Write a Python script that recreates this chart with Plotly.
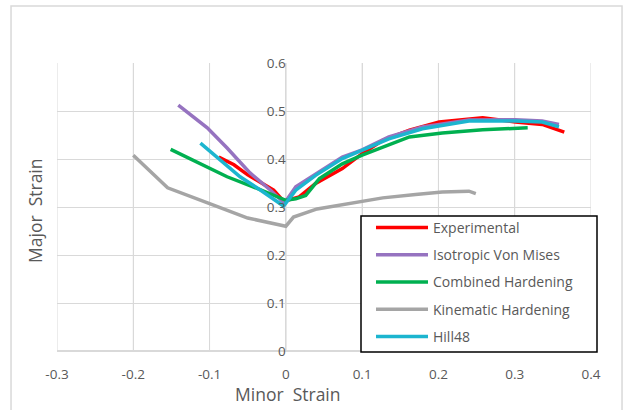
import plotly.graph_objects as go

# ---- data ----
exp_x = [-0.088, -0.068, -0.050, -0.033, -0.016, -0.003, 0.0175, 0.039, 0.074, 0.100, 0.127, 0.162, 0.201, 0.258, 0.301, 0.336, 0.365]
exp_y = [0.404, 0.388, 0.367, 0.350, 0.335, 0.312, 0.321, 0.349, 0.380, 0.411, 0.439, 0.460, 0.477, 0.486, 0.477, 0.472, 0.456]

vm_x = [-0.141, -0.103, -0.077, -0.047, -0.020, -0.002, 0.013, 0.039, 0.074, 0.100, 0.135, 0.179, 0.240, 0.301, 0.336, 0.358]
vm_y = [0.512, 0.465, 0.423, 0.371, 0.335, 0.308, 0.342, 0.369, 0.404, 0.419, 0.446, 0.467, 0.481, 0.482, 0.479, 0.472]

comb_x = [-0.151, -0.112, -0.077, -0.043, -0.007, 0.000, 0.013, 0.026, 0.044, 0.074, 0.100, 0.127, 0.162, 0.205, 0.258, 0.317]
comb_y = [0.420, 0.390, 0.363, 0.342, 0.318, 0.314, 0.317, 0.324, 0.359, 0.390, 0.408, 0.425, 0.446, 0.454, 0.461, 0.465]

kin_x = [-0.200, -0.155, -0.100, -0.050, 0.000, 0.010, 0.041, 0.105, 0.127, 0.170, 0.205, 0.240, 0.249]
kin_y = [0.408, 0.340, 0.307, 0.277, 0.260, 0.279, 0.296, 0.314, 0.319, 0.326, 0.331, 0.333, 0.328]

hill_x = [-0.112, -0.086, -0.060, -0.033, -0.003, 0.013, 0.039, 0.074, 0.100, 0.135, 0.179, 0.240, 0.301, 0.336, 0.358]
hill_y = [0.433, 0.398, 0.363, 0.335, 0.302, 0.335, 0.366, 0.401, 0.418, 0.442, 0.463, 0.479, 0.479, 0.477, 0.467]

series_names = ["Experimental", "Isotropic Von Mises", "Combined Hardening", "Kinematic Hardening", "Hill48"]
series_colors = ["#FF0000", "#9673C0", "#00B050", "#A5A5A5", "#1CB5CF"]

x_ticks = [-0.3, -0.2, -0.1, 0, 0.1, 0.2, 0.3, 0.4]
x_tick_text = ["-0.3", "-0.2", "-0.1", "0", "0.1", "0.2", "0.3", "0.4"]
y_ticks = [0, 0.1, 0.2, 0.3, 0.4, 0.5, 0.6]
y_tick_text = ["0", "0.1", "0.2", "0.3", "0.4", "0.5", "0.6"]

x_title = "Minor  Strain"
y_title = "Major  Strain"

FONT = "Open Sans"
TXT = "#595959"
GRID = "#D9D9D9"

fig = go.Figure()
data = [(exp_x, exp_y), (vm_x, vm_y), (comb_x, comb_y), (kin_x, kin_y), (hill_x, hill_y)]
for i, ((xs, ys), name, col) in enumerate(zip(data, series_names, series_colors)):
    fig.add_trace(go.Scatter(x=xs, y=ys, mode="lines", name=name,
                             line=dict(color=col, width=3.5),
                             legendgroup=f"g{i}"))

x_min, x_max = -0.3, 0.4
y_min, y_max = 0, 0.6
pos0 = (0 - x_min) / (x_max - x_min)

fig.update_layout(
    width=624, height=410,
    margin=dict(l=57, r=33, t=63, b=59),
    paper_bgcolor="white", plot_bgcolor="white",
    font=dict(family=FONT, color=TXT, size=12),
    showlegend=True,
    legend=dict(
        x=(371 - 57) / 534, y=(351 - 212) / 288, xanchor="left", yanchor="top",
        bgcolor="rgba(0,0,0,0)", borderwidth=0,
        font=dict(family=FONT, size=14, color=TXT),
        tracegroupgap=6, itemwidth=52,
    ),
    xaxis=dict(range=[x_min, x_max], tickvals=x_ticks, ticktext=x_tick_text,
               showgrid=True, gridcolor=GRID, gridwidth=1,
               zeroline=False,
               showline=False, ticks="outside", ticklen=11, tickcolor="rgba(0,0,0,0)",
               tickfont=dict(family=FONT, size=13.5, color=TXT)),
    yaxis=dict(range=[y_min, y_max], tickvals=y_ticks, ticktext=y_tick_text,
               anchor="free", position=pos0,
               showgrid=True, gridcolor=GRID, gridwidth=1,
               zeroline=True, zerolinecolor=GRID, zerolinewidth=1.5,
               showline=False, ticks="",
               tickfont=dict(family=FONT, size=13.5, color=TXT)),
)

# vertical gridlines at every x tick (incl. the y axis at x = 0)
for t in x_ticks:
    fig.add_shape(type="line", xref="x", yref="paper", x0=t, x1=t, y0=0, y1=1,
                  line=dict(color=GRID, width=1.5 if t == 0 else 1), layer="below")

# outer chart frame
fig.add_shape(type="rect", xref="paper", yref="paper",
              x0=-0.0861, x1=1.0581, y0=-0.25, y1=1.198,
              line=dict(color=GRID, width=1.5), fillcolor="rgba(0,0,0,0)", layer="below")
# legend box (white, black border) under the legend entries
fig.add_shape(type="rect", xref="paper", yref="paper",
              x0=(361 - 57) / 534, x1=(597 - 57) / 534,
              y0=(351 - 352) / 288, y1=(351 - 216) / 288,
              line=dict(color="black", width=1.5), fillcolor="white", layer="above")

fig.add_annotation(text=x_title, xref="paper", yref="paper", x=(288 - 57) / 534, y=-(394 - 351) / 288,
                   showarrow=False, font=dict(family=FONT, size=17.5, color=TXT),
                   xanchor="center", yanchor="middle")
fig.add_annotation(text=y_title, xref="paper", yref="paper", x=-(57 - 35) / 534, y=(351 - 211) / 288,
                   showarrow=False, textangle=-90, font=dict(family=FONT, size=17.5, color=TXT),
                   xanchor="center", yanchor="middle")

fig.write_html("out.html")
